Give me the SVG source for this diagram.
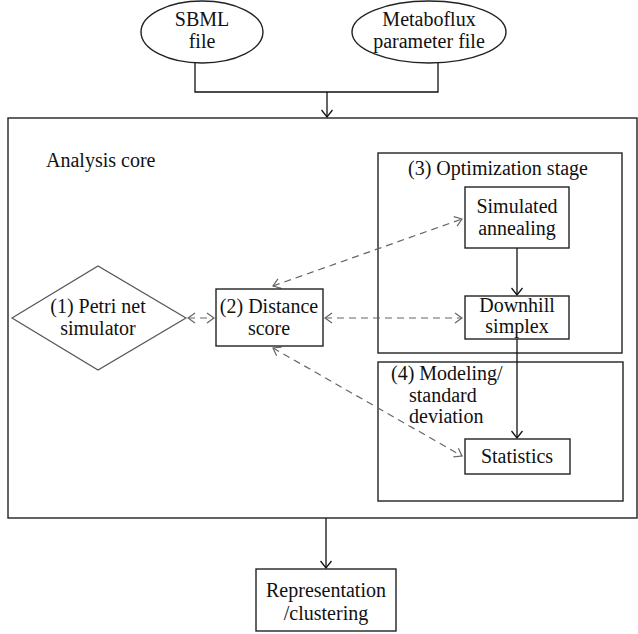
<svg xmlns="http://www.w3.org/2000/svg" width="638" height="634" viewBox="0 0 638 634">
<defs>
<marker id="ah" viewBox="-8 -6 10 12" refX="0" refY="0" markerWidth="10" markerHeight="12" markerUnits="userSpaceOnUse" orient="auto-start-reverse">
<path d="M-7,-5.5 L0,0 L-7,5.5" fill="none" stroke="#111" stroke-width="1.3"/>
</marker>
<marker id="ahg" viewBox="-8 -6 10 12" refX="0" refY="0" markerWidth="10" markerHeight="12" markerUnits="userSpaceOnUse" orient="auto-start-reverse">
<path d="M-7,-5 L0,0 L-7,5" fill="none" stroke="#666" stroke-width="1.2"/>
</marker>
</defs>
<rect width="638" height="634" fill="#fff"/>

<g font-family="Liberation Serif" font-size="20" fill="#111" stroke-linejoin="miter">

<g id="analysis-core">
<rect x="8" y="118" width="629" height="400" fill="none" stroke="#222" stroke-width="1.4"/>
<text x="46" y="167" style="font-family:'Liberation Serif',serif" stroke="none">Analysis core</text>
</g>

<g id="optimization-stage">
<rect x="378" y="153" width="244" height="200" fill="none" stroke="#222" stroke-width="1.4"/>
<text x="498" y="175" text-anchor="middle" style="font-family:'Liberation Serif',serif">(3) Optimization stage</text>
</g>

<g id="modeling">
<rect x="378" y="362" width="245" height="139" fill="none" stroke="#222" stroke-width="1.4"/>
<text x="391" y="380" style="font-family:'Liberation Serif',serif">(4) Modeling/</text>
<text x="409" y="402" style="font-family:'Liberation Serif',serif">standard</text>
<text x="409" y="423" style="font-family:'Liberation Serif',serif">deviation</text>
</g>

<g id="connectors" fill="none">
<g stroke="#111" stroke-width="1.3">
<polyline points="195,62 195,92 438,92 438,63"/>
<line x1="327" y1="92" x2="327" y2="117" marker-end="url(#ah)"/>
<line x1="517" y1="248" x2="517" y2="295" marker-end="url(#ah)"/>
<line x1="517" y1="339" x2="517" y2="438" marker-end="url(#ah)"/>
<line x1="326" y1="518" x2="326" y2="568" marker-end="url(#ah)"/>
</g>
<g stroke="#666" stroke-width="1.2" stroke-dasharray="7 5" marker-start="url(#ahg)" marker-end="url(#ahg)">
<line x1="188" y1="318" x2="214" y2="318"/>
<line x1="273" y1="286" x2="462" y2="219"/>
<line x1="325" y1="318" x2="462" y2="318"/>
<line x1="273" y1="348" x2="462" y2="456"/>
</g>
</g>

<g id="sbml">
<ellipse cx="202" cy="32" rx="61" ry="31" fill="#fff" stroke="#222" stroke-width="1.4"/>
<text x="202" y="26" text-anchor="middle" style="font-family:'Liberation Serif',serif">SBML</text>
<text x="202" y="48" text-anchor="middle" style="font-family:'Liberation Serif',serif">file</text>
</g>

<g id="metaboflux">
<ellipse cx="429" cy="32" rx="77" ry="31" fill="#fff" stroke="#222" stroke-width="1.4"/>
<text x="429" y="26" text-anchor="middle" style="font-family:'Liberation Serif',serif">Metaboflux</text>
<text x="429" y="48" text-anchor="middle" style="font-family:'Liberation Serif',serif">parameter file</text>
</g>

<g id="petri">
<polygon points="12,318 98,266 186,318 98,370" fill="#fff" stroke="#555" stroke-width="1.2"/>
<text x="98" y="313" text-anchor="middle" style="font-family:'Liberation Serif',serif">(1) Petri net</text>
<text x="98" y="335" text-anchor="middle" style="font-family:'Liberation Serif',serif">simulator</text>
</g>

<g id="distance">
<rect x="216" y="289" width="107" height="57" fill="#fff" stroke="#222" stroke-width="1.4"/>
<text x="269" y="313" text-anchor="middle" style="font-family:'Liberation Serif',serif">(2) Distance</text>
<text x="269" y="335" text-anchor="middle" style="font-family:'Liberation Serif',serif">score</text>
</g>

<g id="annealing">
<rect x="465" y="187" width="104" height="61" fill="#fff" stroke="#222" stroke-width="1.4"/>
<text x="517" y="213" text-anchor="middle" style="font-family:'Liberation Serif',serif">Simulated</text>
<text x="517" y="235" text-anchor="middle" style="font-family:'Liberation Serif',serif">annealing</text>
</g>

<g id="downhill">
<rect x="465" y="296" width="104" height="43" fill="#fff" stroke="#222" stroke-width="1.4"/>
<text x="517" y="312" text-anchor="middle" style="font-family:'Liberation Serif',serif">Downhill</text>
<text x="517" y="333" text-anchor="middle" style="font-family:'Liberation Serif',serif">simplex</text>
</g>

<g id="statistics">
<rect x="465" y="439" width="105" height="35" fill="#fff" stroke="#222" stroke-width="1.4"/>
<text x="517" y="463" text-anchor="middle" style="font-family:'Liberation Serif',serif">Statistics</text>
</g>

<g id="representation">
<rect x="256" y="569" width="140" height="62" fill="#fff" stroke="#222" stroke-width="1.4"/>
<text x="326" y="597" text-anchor="middle" style="font-family:'Liberation Serif',serif">Representation</text>
<text x="326" y="620" text-anchor="middle" style="font-family:'Liberation Serif',serif">/clustering</text>
</g>
</g>
</svg>
